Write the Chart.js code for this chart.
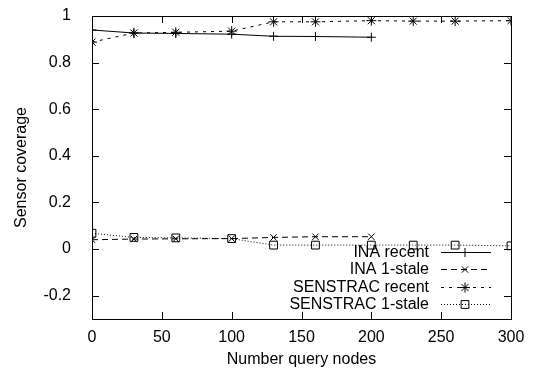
<!DOCTYPE html>
<html>
<head>
<meta charset="utf-8">
<script src="https://cdn.jsdelivr.net/npm/chart.js@4.4.1/dist/chart.umd.min.js"></script>
<style>
  html, body { margin: 0; padding: 0; background: #fff; }
  #wrap { width: 538px; height: 373px; }
</style>
</head>
<body>
<div id="wrap"><canvas id="coverageChart"></canvas></div>
<script>
// query node counts
var inaNodes = [0, 30, 60, 100, 130, 160, 200];
var senstracNodes = [0, 30, 60, 100, 130, 160, 200, 230, 260, 300];

// sensor coverage per series
var inaRecent = [0.94, 0.927, 0.925, 0.922, 0.913, 0.912, 0.909];
var inaStale = [0.040, 0.043, 0.044, 0.045, 0.050, 0.053, 0.053];
var senstracRecent = [0.888, 0.927, 0.930, 0.935, 0.975, 0.975, 0.980, 0.978, 0.978, 0.980];
var senstracStale = [0.068, 0.050, 0.048, 0.045, 0.017, 0.017, 0.017, 0.017, 0.017, 0.014];

var yTicks = [-0.2, 0, 0.2, 0.4, 0.6, 0.8, 1];
var xTicks = [0, 50, 100, 150, 200, 250, 300];

var FONT = "'Liberation Sans', Arial, Helvetica, sans-serif";

function pairs(xs, ys) {
    return xs.map(function (x, i) { return { x: x, y: ys[i] }; });
}

var ctx = document.getElementById("coverageChart").getContext("2d");

var data = {
    datasets: [
        {
            label: "INA recent",
            data: pairs(inaNodes, inaRecent),
            borderColor: "#000",
            borderWidth: 1,
            pointStyle: "cross",
            pointRadius: 4.5,
            pointBorderWidth: 1,
            pointBorderColor: "#000"
        },
        {
            label: "INA 1-stale",
            data: pairs(inaNodes, inaStale),
            borderColor: "#000",
            borderWidth: 1,
            borderDash: [6, 4],
            pointStyle: "crossRot",
            pointRadius: 4.5,
            pointBorderWidth: 1,
            pointBorderColor: "#000"
        },
        {
            label: "SENSTRAC recent",
            data: pairs(senstracNodes, senstracRecent),
            borderColor: "#000",
            borderWidth: 1,
            borderDash: [3, 5],
            pointStyle: "star",
            pointRadius: 5,
            pointBorderWidth: 1,
            pointBorderColor: "#000"
        },
        {
            label: "SENSTRAC 1-stale",
            data: pairs(senstracNodes, senstracStale),
            borderColor: "#000",
            borderWidth: 1,
            borderDash: [1, 2],
            pointStyle: "rect",
            pointRadius: 5.5,
            pointBorderWidth: 1,
            pointBorderColor: "#000",
            pointBackgroundColor: "rgba(0,0,0,0)"
        }
    ]
};

// frame, inward ticks and the in-plot key
var gnuplotLook = {
    id: "gnuplotLook",
    afterDraw: function (chart) {
        var c = chart.ctx;
        var a = chart.chartArea;
        var xs = chart.scales.x;
        var ys = chart.scales.y;
        var len = 7;
        c.save();
        c.strokeStyle = "#000";
        c.lineWidth = 1;
        c.setLineDash([]);
        c.strokeRect(Math.round(a.left) + 0.5, Math.round(a.top) + 0.5,
            Math.round(a.right - a.left), Math.round(a.bottom - a.top));
        c.beginPath();
        xTicks.forEach(function (v) {
            var px = Math.round(xs.getPixelForValue(v)) + 0.5;
            c.moveTo(px, a.bottom); c.lineTo(px, a.bottom - len);
            c.moveTo(px, a.top); c.lineTo(px, a.top + len);
        });
        yTicks.forEach(function (v) {
            var py = Math.round(ys.getPixelForValue(v)) + 0.5;
            c.moveTo(a.left, py); c.lineTo(a.left + len, py);
            c.moveTo(a.right, py); c.lineTo(a.right - len, py);
        });
        c.stroke();

        // key
        c.font = "16px " + FONT;
        c.textAlign = "right";
        c.textBaseline = "middle";
        var textRight = a.right - 82;
        var lineL = a.right - 70, lineR = a.right - 20, mid = a.right - 46;
        var y0 = a.bottom - 67;
        chart.data.datasets.forEach(function (ds, i) {
            var y = Math.round(y0 + i * 17.3) + 0.5;
            c.fillStyle = "#000";
            c.fillText(ds.label, textRight, y);
            c.setLineDash(ds.borderDash || []);
            c.beginPath();
            c.moveTo(lineL, y); c.lineTo(lineR, y);
            c.stroke();
            c.setLineDash([]);
            c.fillStyle = "rgba(0,0,0,0)";
            Chart.helpers.drawPoint(c, {
                pointStyle: ds.pointStyle,
                radius: ds.pointRadius,
                rotation: 0,
                borderWidth: 1
            }, mid, y);
        });
        c.restore();
    }
};

var options = {
    responsive: true,
    maintainAspectRatio: false,
    animation: false,
    layout: { padding: { top: 16, right: 27, left: 0, bottom: 0 } },
    elements: { line: { tension: 0, fill: false } },
    scales: {
        x: {
            type: "linear",
            min: 0,
            max: 300,
            grid: { display: false },
            border: { display: false },
            afterBuildTicks: function (scale) {
                scale.ticks = xTicks.map(function (v) { return { value: v }; });
            },
            afterFit: function (scale) {
                scale.height = 54;
                scale.paddingLeft = 0;
                scale.paddingRight = 0;
            },
            ticks: {
                color: "#000",
                padding: 1,
                maxRotation: 0,
                font: { family: FONT, size: 16 }
            },
            title: {
                display: true,
                text: "Number query nodes",
                color: "#000",
                padding: { top: 0, bottom: 4 },
                font: { family: FONT, size: 16 }
            }
        },
        y: {
            min: -0.3,
            max: 1,
            grid: { display: false },
            border: { display: false },
            afterBuildTicks: function (scale) {
                scale.ticks = yTicks.map(function (v) { return { value: v }; });
            },
            afterFit: function (scale) {
                scale.width = 92;
                scale.paddingTop = 0;
                scale.paddingBottom = 0;
            },
            ticks: {
                color: "#000",
                padding: 13,
                font: { family: FONT, size: 16 },
                callback: function (v) { return String(Math.round(v * 10) / 10); }
            },
            title: {
                display: true,
                text: "Sensor coverage",
                color: "#000",
                padding: { top: 12, bottom: 0 },
                font: { family: FONT, size: 16 }
            }
        }
    },
    plugins: {
        legend: { display: false },
        tooltip: { enabled: false }
    }
};

var coverageChart = new Chart(ctx, {
    type: "line",
    data: data,
    options: options,
    plugins: [gnuplotLook]
});
</script>
</body>
</html>
